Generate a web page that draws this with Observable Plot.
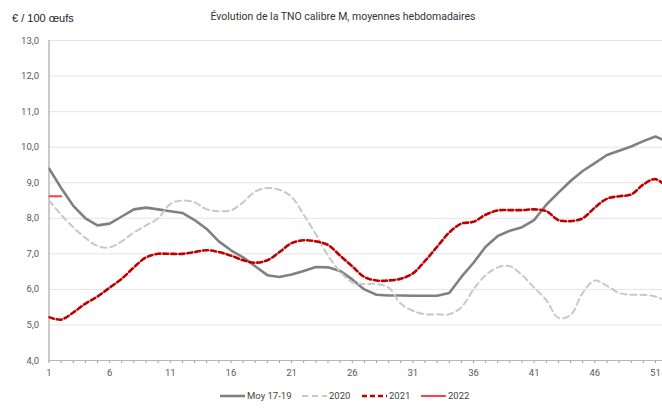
<!DOCTYPE html>
<html><head><meta charset="utf-8">
<script src="https://cdn.jsdelivr.net/npm/d3@7"></script>
<script src="https://cdn.jsdelivr.net/npm/@observablehq/plot@0.6"></script>
<style>
body{margin:0;background:#fff;width:662px;height:412px;overflow:hidden;font-family:"Liberation Sans",Arial,sans-serif;}
#head{position:relative;height:30px;}
#unit{position:absolute;left:12px;top:12px;font-size:11px;color:#222;white-space:nowrap;}
#title{position:absolute;left:0;width:686px;text-align:center;top:10px;font-size:10.5px;color:#333;font-family:Roboto,sans-serif;white-space:nowrap;}
#chart{height:350px;}
#legend{position:relative;height:32px;font-family:Roboto,sans-serif;font-size:9.5px;color:#444;}
.it{position:absolute;top:10px;display:flex;align-items:center;white-space:nowrap;}
.it svg{margin-right:2px;}
</style></head>
<body>
<div id="head"><span id="unit">€ / 100 œufs</span><span id="title">Évolution de la TNO calibre M, moyennes hebdomadaires</span></div>
<div id="chart"></div>
<div id="legend"></div>
<script>
const weeks = [1,2,3,4,5,6,7,8,9,10,11,12,13,14,15,16,17,18,19,20,21,22,23,24,25,26,27,28,29,30,31,32,33,34,35,36,37,38,39,40,41,42,43,44,45,46,47,48,49,50,51,52];
const weekLabels = [1,6,11,16,21,26,31,36,41,46,51];
const yTicks = [4,5,6,7,8,9,10,11,12,13];
const seriesNames = ["Moy 17-19","2020","2021","2022"];
const moy = [9.40,8.85,8.35,8.00,7.80,7.85,8.05,8.25,8.30,8.25,8.20,8.15,7.95,7.70,7.35,7.10,6.90,6.65,6.40,6.35,6.42,6.52,6.63,6.62,6.52,6.28,6.00,5.85,5.83,5.83,5.82,5.82,5.82,5.90,6.35,6.75,7.20,7.50,7.65,7.75,7.95,8.38,8.72,9.05,9.33,9.55,9.78,9.90,10.02,10.17,10.30,10.15];
const y2020 = [8.50,8.10,7.75,7.45,7.22,7.18,7.35,7.60,7.80,8.00,8.40,8.50,8.45,8.25,8.20,8.22,8.45,8.75,8.85,8.80,8.60,8.10,7.55,6.95,6.50,6.20,6.15,6.15,6.05,5.60,5.40,5.30,5.30,5.30,5.50,6.00,6.40,6.62,6.65,6.40,6.05,5.70,5.20,5.28,5.90,6.25,6.10,5.90,5.85,5.85,5.80,5.65];
const y2021 = [5.22,5.15,5.35,5.60,5.80,6.05,6.30,6.62,6.90,7.00,7.00,7.00,7.05,7.10,7.05,6.95,6.82,6.75,6.82,7.05,7.30,7.38,7.35,7.25,6.95,6.65,6.35,6.25,6.25,6.30,6.45,6.80,7.20,7.60,7.85,7.90,8.10,8.22,8.23,8.23,8.25,8.20,7.95,7.92,8.00,8.30,8.55,8.62,8.67,8.95,9.10,8.85];
const y2022 = [8.62,8.62];

const styles = [
  {stroke:"#808080", width:2.6, dash:null, curve:"linear"},
  {stroke:"#c8c8c8", width:2, dash:"6,4", curve:"catmull-rom"},
  {stroke:"#c00000", width:2.6, dash:"5,3", curve:"catmull-rom"},
  {stroke:"#ff4040", width:2, dash:null, curve:"linear"}
];
const vals = [moy, y2020, y2021, y2022];
const lineMarks = vals.map((arr, i) => {
  const data = arr.map((v, j) => ({w: weeks[j], v}));
  const s = styles[i];
  const o = {x:"w", y:"v", stroke:s.stroke, strokeWidth:s.width, curve:s.curve, clip:true};
  if (s.dash) o.strokeDasharray = s.dash;
  return Plot.line(data, o);
});

const chart = Plot.plot({
  width: 662, height: 350,
  marginLeft: 48.5, marginRight: 0, marginTop: 10, marginBottom: 20,
  style: {fontFamily: "Roboto, sans-serif", fontSize: "9.5px", color: "#595959", background: "#fff"},
  x: {domain: [1, 51.58], axis: null, label: null},
  y: {domain: [4, 13], axis: null, label: null},
  marks: [
    Plot.gridY(yTicks, {stroke: "#e4e4e4", strokeOpacity: 1, strokeWidth: 1}),
    Plot.axisY(yTicks, {label: null, tickSize: 0, tickPadding: 10, tickFormat: d => d.toFixed(1).replace(".", ","), fill: "#595959"}),
    Plot.axisX(weeks.filter(w => w <= 51), {label: null, tickSize: 3, tickPadding: 6, stroke: "#9a9a9a", tickFormat: d => weekLabels.includes(d) ? String(d) : "", fill: "#595959"}),
    Plot.ruleY([4], {stroke: "#b5b5b5", strokeWidth: 1.2}),
    Plot.ruleX([1], {stroke: "#bdbdbd", strokeWidth: 1.6}),
    ...lineMarks
  ]
});
document.getElementById("chart").appendChild(chart);

const legendPos = [220, 302, 362, 421];
const leg = document.getElementById("legend");
seriesNames.forEach((name, i) => {
  const s = styles[i];
  const it = document.createElement("div");
  it.className = "it";
  it.style.left = legendPos[i] + "px";
  it.innerHTML = `<svg width="25" height="6"><line x1="0" x2="25" y1="3" y2="3" stroke="${s.stroke}" stroke-width="${s.width}" ${s.dash ? `stroke-dasharray="${s.dash}"` : ""}/></svg><span>${name}</span>`;
  leg.appendChild(it);
});
</script>
</body></html>
